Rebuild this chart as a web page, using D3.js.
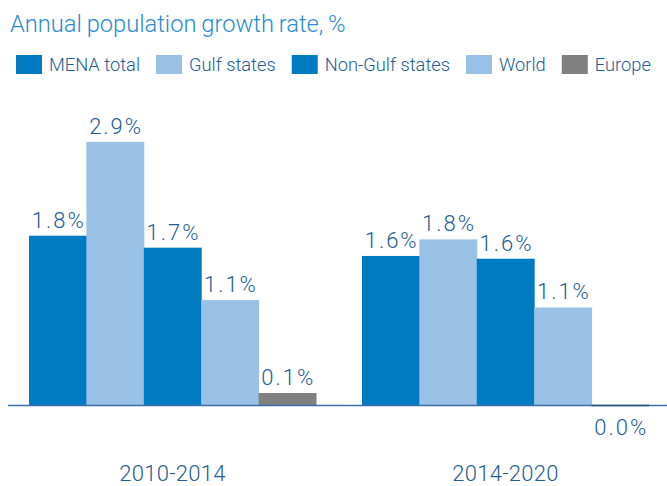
<!DOCTYPE html>
<html>
<head>
<meta charset="utf-8">
<script src="https://cdn.jsdelivr.net/npm/d3@7"></script>
<style>
  body { margin: 0; background: #fff; }
  svg text { font-family: Roboto, "Liberation Sans", sans-serif; }
</style>
</head>
<body>
<svg id="chart" width="667" height="486"></svg>
<script>
const periods = ["2010-2014", "2014-2020"];
const seriesNames = ["MENA total", "Gulf states", "Non-Gulf states", "World", "Europe"];
const seriesColors = ["#007bc2", "#99c1e5", "#007bc2", "#99c1e5", "#808080"];
const menaTotal = [1.84, 1.62];
const gulfStates = [2.86, 1.8];
const nonGulfStates = [1.71, 1.59];
const world = [1.14, 1.06];
const europe = [0.13, 0.0];

const seriesValues = [menaTotal, gulfStates, nonGulfStates, world, europe];

const rows = [];
periods.forEach((p, i) => {
  seriesNames.forEach((s, j) => {
    rows.push({ period: p, series: s, value: seriesValues[j][i], color: seriesColors[j] });
  });
});

const svg = d3.select("#chart");
const baseY = 405;
const textBlue = "#245c96";

// title
svg.append("text")
  .attr("x", 10)
  .attr("y", 32)
  .attr("fill", "#2a8bd0")
  .attr("font-size", 23.7)
  .attr("font-weight", 300)
  .attr("word-spacing", -1)
  .text("Annual population growth rate, %");

// legend
let lx = 16;
seriesNames.forEach((name, i) => {
  svg.append("rect")
    .attr("x", lx).attr("y", 55)
    .attr("width", 26).attr("height", 19)
    .attr("fill", seriesColors[i]);
  const t = svg.append("text")
    .attr("x", lx + 33).attr("y", 71)
    .attr("fill", textBlue)
    .attr("font-size", 18.3)
    .attr("font-weight", 300)
    .text(name);
  lx += 33 + t.node().getComputedTextLength() + 16;
});

const x0 = d3.scaleBand().domain(periods).range([29, 649]).paddingInner(0.138);
const x1 = d3.scaleBand().domain(seriesNames).range([0, x0.bandwidth()]).padding(0);
const y = d3.scaleLinear().domain([0, 3]).range([baseY, baseY - 276]);

svg.append("g").selectAll("rect")
  .data(rows)
  .join("rect")
  .attr("x", d => x0(d.period) + x1(d.series))
  .attr("y", d => y(d.value))
  .attr("width", x1.bandwidth() + 0.5)
  .attr("height", d => y(0) - y(d.value))
  .attr("fill", d => d.color);

// baseline
svg.append("line")
  .attr("x1", 8).attr("x2", 667)
  .attr("y1", baseY + 0.5).attr("y2", baseY + 0.5)
  .attr("stroke", "#3a6fa8")
  .attr("stroke-width", 1.5);

// zero-value bars get a dark tick on the axis
svg.append("g").selectAll("line")
  .data(rows.filter(d => d.value === 0))
  .join("line")
  .attr("x1", d => x0(d.period) + x1(d.series))
  .attr("x2", d => x0(d.period) + x1(d.series) + x1.bandwidth())
  .attr("y1", baseY + 0.5).attr("y2", baseY + 0.5)
  .attr("stroke", "#2b4f78")
  .attr("stroke-width", 1.5);

// value labels
svg.append("g").selectAll("text")
  .data(rows)
  .join("text")
  .attr("x", d => x0(d.period) + x1(d.series) + x1.bandwidth() / 2 + 1)
  .attr("y", d => d.value === 0 ? baseY + 30 : y(d.value) - 8)
  .attr("text-anchor", "middle")
  .attr("fill", textBlue)
  .attr("font-size", 22)
  .attr("font-weight", 300)
  .attr("letter-spacing", 2)
  .text(d => d.value.toFixed(1) + "%");

// category labels
svg.append("g").selectAll("text")
  .data(periods)
  .join("text")
  .attr("x", d => x0(d) + x0.bandwidth() / 2)
  .attr("y", 481)
  .attr("text-anchor", "middle")
  .attr("fill", textBlue)
  .attr("font-size", 22)
  .attr("font-weight", 300)
  .attr("letter-spacing", 0.3)
  .text(d => d);
</script>
</body>
</html>
